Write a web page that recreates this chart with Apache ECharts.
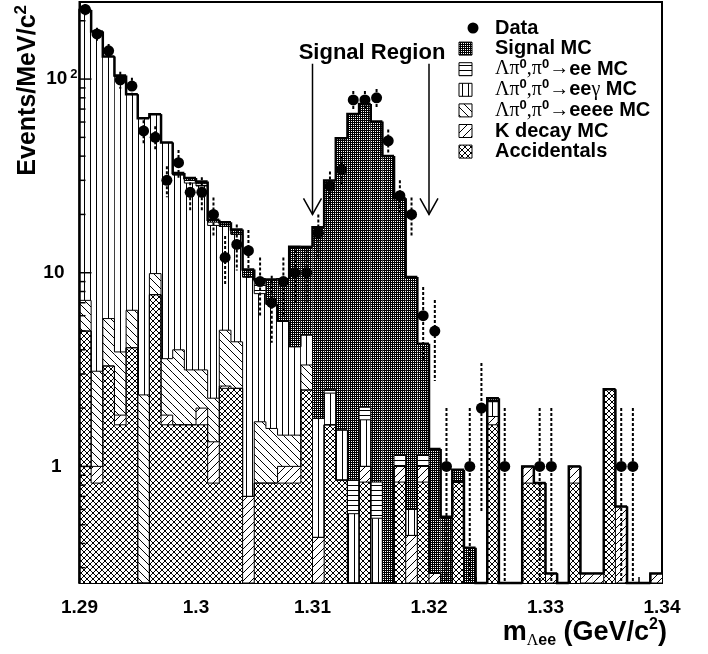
<!DOCTYPE html>
<html>
<head>
<meta charset="utf-8">
<script src="https://cdn.jsdelivr.net/npm/echarts@6/dist/echarts.min.js"></script>
<style>
html, body { margin: 0; padding: 0; background: #fff; }
#main { width: 708px; height: 654px; }
</style>
</head>
<body>
<div id="main"></div>
<script>
// binning: 1 MeV bins from 1.29 to 1.34 GeV
const XMIN = 1.29, XMAX = 1.34, BIN = 0.001;
const YMIN = 0.25, YMAX = 250;
const yTickValues = [0.3, 0.4, 0.5, 0.6, 0.7, 0.8, 0.9, 1, 2, 3, 4, 5, 6, 7, 8, 9, 10,
  20, 30, 40, 50, 60, 70, 80, 90, 100, 200];
const signalRegion = [1.31, 1.32];

// observed events per bin
const dataCounts = [229, 171, 140, 99, 92, 54, 50, 30, 37, 26,
  26, 20, 12, 14, 13, 9, 7, 9, 10, 10,
  16, 28, 34, 78, 78, 80, 48, 25, 20, 6,
  5, 1, 0, 1, 2, 0, 1, 0, 0, 1,
  1, 0, 0, 0, 0, 0, 1, 1, 0, 0];

// MC components (per bin content), stacked bottom -> top
const accidentals = [5.0, 0.82, 3.3, 1.64, 4.1, 0, 7.7, 1.64, 1.64, 1.64,
  1.64, 0.82, 2.53, 2.53, 0, 0.82, 0.82, 0.82, 0.82, 2.48,
  0, 1.64, 0.85, 0, 0.83, 0, 0, 0.83, 0, 0.83,
  0, 0, 0.83, 0, 0, 1.64, 0, 0, 0.82, 0.82,
  0, 0, 0.82, 0, 0, 2.5, 0, 0, 0, 0];
const kDecay = [0, 0.18, 0, 0.2, 0, 0, 0, 0.2, 0, 0,
  0.36, 0.52, 0.07, 0, 0.7, 0, 0, 0.18, 0.18, 0,
  0.43, 0, 0, 0, 0.17, 0, 0, 0.17, 0.44, 0.17,
  0.28, 0, 0, 0, 0, 0.17, 0, 0, 0.18, 0,
  0.28, 0, 0.18, 0.28, 0.28, 0, 0.62, 0, 0, 0.28];
const eeee = [2.2, 2.1, 2.5, 2.06, 2.3, 2.34, 2.2, 1.76, 2.36, 1.51,
  1.15, 0.91, 2.45, 1.87, 0, 0.88, 0.75, 0.45, 0.45, 0.86,
  0, 0, 0, 0, 0, 0, 0, 0, 0, 0,
  0, 0, 0, 0, 0, 0, 0, 0, 0, 0,
  0, 0, 0, 0, 0, 0, 0, 0, 0, 0];
const eeGamma = [220, 173, 125, 99, 77, 60.5, 56, 43.4, 28, 25.9,
  24.9, 15.3, 12.3, 11.4, 8.8, 6.1, 5.3, 4.15, 2.7, 1.43,
  1.34, 0.75, 0.69, 0.57, 0.74, 0.54, 0, 0, 0.16, 0,
  0, 0, 0, 0, 0, 0.35, 0, 0, 0, 0,
  0, 0, 0, 0, 0, 0, 0, 0, 0, 0];
const ee = [0, 0, 0, 0, 0, 0, 0, 0, 0, 0.9,
  0.8, 0.7, 0, 0, 0, 1.2, 0, 0, 0, 0,
  0, 0.11, 0, 0.28, 0.28, 0.29, 0, 0.15, 0, 0.15,
  0, 0, 0, 0, 0, 0, 0, 0, 0, 0,
  0, 0, 0, 0, 0, 0, 0, 0, 0, 0];
const signalMC = [0, 0, 0, 1.5, 0, 0, 0, 0, 0.7, 0.9,
  0.7, 0.5, 0.9, 0.9, 0.9, 0.25, 2.35, 3.65, 9.45, 8.83,
  15.4, 27.4, 48, 65.2, 72.4, 59.5, 40.1, 23.1, 8.9, 3.15,
  0.95, 0.55, 0.13, 0.38, 0, 0.09, 0, 0, 0, 0,
  0, 0, 0, 0, 0, 0, 0, 0, 0, 0];

// fill patterns
function pattern(w, h, draw) {
  const c = document.createElement('canvas');
  c.width = w; c.height = h;
  const g = c.getContext('2d');
  g.fillStyle = '#fff'; g.fillRect(0, 0, w, h);
  g.fillStyle = '#000'; g.strokeStyle = '#000'; g.lineWidth = 1;
  draw(g, w, h);
  return { image: c, repeat: 'repeat' };
}
const pGrid = pattern(2, 2, g => { g.fillRect(0, 0, 2, 1); g.fillRect(0, 0, 1, 2); });
const pHoriz = pattern(1, 5, g => g.fillRect(0, 0, 1, 1));
const pVert = pattern(6, 1, g => g.fillRect(0, 0, 1, 1));
const pBack = pattern(8, 8, g => {
  g.beginPath(); g.moveTo(-1, -1); g.lineTo(9, 9);
  g.moveTo(7, -1); g.lineTo(9, 1); g.moveTo(-1, 7); g.lineTo(1, 9); g.stroke();
});
const pFwd = pattern(8, 8, g => {
  g.beginPath(); g.moveTo(-1, 9); g.lineTo(9, -1);
  g.moveTo(-1, 1); g.lineTo(1, -1); g.moveTo(7, 9); g.lineTo(9, 7); g.stroke();
});
const pCross = pattern(6, 6, g => {
  g.beginPath(); g.moveTo(-1, -1); g.lineTo(7, 7); g.moveTo(-1, 7); g.lineTo(7, -1); g.stroke();
});

const layers = [
  { values: accidentals, fill: pCross },
  { values: kDecay, fill: pFwd },
  { values: eeee, fill: pBack },
  { values: eeGamma, fill: pVert },
  { values: ee, fill: pHoriz },
  { values: signalMC, fill: pGrid }
];
const cum = layers.map(() => []);
dataCounts.forEach((_, i) => {
  let c = 0;
  layers.forEach((l, k) => { c += l.values[i]; cum[k][i] = c; });
});

function renderStack(params, api) {
  const i = params.dataIndex;
  const x0 = XMIN + i * BIN, x1 = x0 + BIN;
  const kids = [];
  let lo = 0;
  layers.forEach((l, k) => {
    const hi = cum[k][i];
    if (hi > lo && hi > YMIN) {
      const a = api.coord([x0, hi]), b = api.coord([x1, Math.max(lo, YMIN)]);
      kids.push({ type: 'rect', shape: { x: a[0], y: a[1], width: b[0] - a[0], height: b[1] - a[1] },
        style: { fill: l.fill } });
    }
    lo = hi;
  });
  layers.forEach((l, k) => {
    const h = Math.max(cum[k][i], YMIN);
    const hp = i > 0 ? Math.max(cum[k][i - 1], YMIN) : YMIN;
    const p = api.coord([x0, hp]), a = api.coord([x0, h]), b = api.coord([x1, h]);
    const last = k === layers.length - 1;
    kids.push({ type: 'polyline', shape: { points: [p, a, b] },
      style: { stroke: '#000', lineWidth: last ? 2.5 : 1, fill: null } });
  });
  return { type: 'group', children: kids };
}

function renderErr(params, api) {
  const x = api.value(0), n = api.value(1), s = Math.sqrt(n);
  const a = api.coord([x, n + s]), b = api.coord([x, Math.max(n - s, YMIN)]);
  return { type: 'line', shape: { x1: a[0], y1: a[1], x2: b[0], y2: b[1] },
    style: { stroke: '#000', lineWidth: 2, lineDash: [3, 2] } };
}

function renderYTick(params, api) {
  const v = api.value(1);
  const major = Math.abs(Math.log10(v) - Math.round(Math.log10(v))) < 1e-6;
  const p = api.coord([XMIN, v]);
  return { type: 'line', shape: { x1: p[0], y1: p[1], x2: p[0] + (major ? 12 : 6), y2: p[1] },
    style: { stroke: '#000', lineWidth: 1.5 } };
}

function renderArrow(params, api) {
  const x = api.value(0);
  const top = api.coord([x, 120]), tip = api.coord([x, 20]);
  return { type: 'group', children: [
    { type: 'line', shape: { x1: top[0], y1: top[1], x2: tip[0], y2: tip[1] }, style: { stroke: '#000', lineWidth: 1.5 } },
    { type: 'polyline', shape: { points: [[tip[0] - 9, tip[1] - 16], tip, [tip[0] + 9, tip[1] - 16]] },
      style: { stroke: '#000', lineWidth: 1.5, fill: null } }
  ] };
}

const centers = dataCounts.map((_, i) => +(XMIN + (i + 0.5) * BIN).toFixed(4));
const points = [];
dataCounts.forEach((n, i) => { if (n > 0) points.push([centers[i], n]); });

const FONT = 'Liberation Sans';
const legendRows = [
  { label: '{b|Data}', fill: null },
  { label: '{b|Signal MC}', fill: pGrid },
  { label: '{g|\u039b\u03c0}{s|0}{g|,\u03c0}{s|0}{g|\u2192}{b|ee MC}', fill: pHoriz },
  { label: '{g|\u039b\u03c0}{s|0}{g|,\u03c0}{s|0}{g|\u2192}{b|ee}{g|\u03b3}{b| MC}', fill: pVert },
  { label: '{g|\u039b\u03c0}{s|0}{g|,\u03c0}{s|0}{g|\u2192}{b|eeee MC}', fill: pBack },
  { label: '{b|K decay MC}', fill: pFwd },
  { label: '{b|Accidentals}', fill: pCross }
];
const legendRich = {
  b: { fontFamily: FONT, fontWeight: 'bold', fontSize: 20 },
  g: { fontFamily: 'Liberation Serif', fontSize: 20 },
  s: { fontFamily: FONT, fontWeight: 'bold', fontSize: 13, padding: [0, 0, 10, 0] }
};
const graphics = [];
legendRows.forEach((r, k) => {
  const cy = 28 + k * 20.6;
  if (r.fill) {
    graphics.push({ type: 'rect', shape: { x: 459, y: cy - 6.5, width: 13, height: 13 },
      style: { fill: r.fill, stroke: '#000', lineWidth: 1 } });
  } else {
    graphics.push({ type: 'circle', shape: { cx: 473, cy: cy, r: 5.5 }, style: { fill: '#000' } });
  }
  graphics.push({ type: 'text', x: 495, y: cy,
    style: { text: r.label, rich: legendRich, verticalAlign: 'middle', align: 'left' } });
});
graphics.push({ type: 'text', x: 372, y: 53,
  style: { text: 'Signal Region', fontFamily: FONT, fontWeight: 'bold', fontSize: 22, fill: '#000',
    align: 'center', verticalAlign: 'middle' } });
graphics.push({ type: 'text', x: 28, y: 5, rotation: Math.PI / 2,
  style: { text: '{a|Events/MeV/c}{s|2}', align: 'right', verticalAlign: 'middle',
    rich: { a: { fontFamily: FONT, fontWeight: 'bold', fontSize: 25 },
      s: { fontFamily: FONT, fontWeight: 'bold', fontSize: 17, padding: [0, 0, 14, 0] } } } });
graphics.push({ type: 'text', x: 667, y: 633,
  style: { text: '{a|m}{g|\u039b}{sub|ee}{a| (GeV/c}{sup|2}{a|)}', align: 'right', verticalAlign: 'middle',
    rich: { a: { fontFamily: FONT, fontWeight: 'bold', fontSize: 27 },
      g: { fontFamily: 'Liberation Serif', fontSize: 16, padding: [16, 0, 0, 0] },
      sub: { fontFamily: FONT, fontWeight: 'bold', fontSize: 16, padding: [16, 0, 0, 0] },
      sup: { fontFamily: FONT, fontWeight: 'bold', fontSize: 16, padding: [0, 0, 16, 0] } } } });

const chart = echarts.init(document.getElementById('main'));
chart.setOption({
  animation: false,
  backgroundColor: '#fff',
  grid: { left: 79.5, right: 46, top: 2, bottom: 71, show: true, borderColor: '#000', borderWidth: 2 },
  xAxis: {
    type: 'value', min: XMIN, max: XMAX, interval: 0.01,
    axisLine: { lineStyle: { color: '#000', width: 2 } },
    axisTick: { inside: true, length: 11, lineStyle: { color: '#000', width: 1.5 } },
    minorTick: { show: true, splitNumber: 5, length: 6, lineStyle: { color: '#000', width: 1.5 } },
    splitLine: { show: false },
    axisLabel: { margin: 15, color: '#000', fontFamily: FONT, fontWeight: 'bold', fontSize: 19,
      formatter: v => String(parseFloat(v.toFixed(3))) }
  },
  yAxis: {
    type: 'log', logBase: 10, min: YMIN, max: YMAX,
    axisLine: { show: true, lineStyle: { color: '#000', width: 2 } },
    axisTick: { show: false },
    splitLine: { show: false },
    axisLabel: {
      margin: 2, showMinLabel: false, showMaxLabel: false,
      formatter: v => {
        const e = Math.log10(v), r = Math.round(e);
        if (Math.abs(e - r) > 1e-6) return '';
        if (r === 2) return '{a|10}{s|2}';
        if (r === 1) return '{b|10}';
        if (r === 0) return '{c|1}';
        return '';
      },
      rich: {
        a: { fontFamily: FONT, fontWeight: 'bold', fontSize: 19, color: '#000' },
        s: { fontFamily: FONT, fontWeight: 'bold', fontSize: 13, color: '#000', padding: [0, 0, 9, 3] },
        b: { fontFamily: FONT, fontWeight: 'bold', fontSize: 19, color: '#000', padding: [0, 13, 0, 0] },
        c: { fontFamily: FONT, fontWeight: 'bold', fontSize: 19, color: '#000', padding: [0, 16, 0, 0] }
      }
    }
  },
  series: [
    { type: 'custom', name: 'stack', renderItem: renderStack, silent: true, z: 1,
      data: centers.map(x => [x, 1]) },
    { type: 'custom', name: 'yticks', renderItem: renderYTick, silent: true, z: 6,
      data: yTickValues.map(v => [XMIN, v]) },
    { type: 'custom', name: 'errors', renderItem: renderErr, silent: true, z: 3, data: points },
    { type: 'scatter', name: 'Data', data: points, symbol: 'circle', symbolSize: 11,
      itemStyle: { color: '#000', opacity: 1 }, z: 4, silent: true },
    { type: 'custom', name: 'arrows', renderItem: renderArrow, silent: true, z: 5,
      data: signalRegion.map(x => [x, 50]) }
  ],
  graphic: graphics
});
</script>
</body>
</html>
